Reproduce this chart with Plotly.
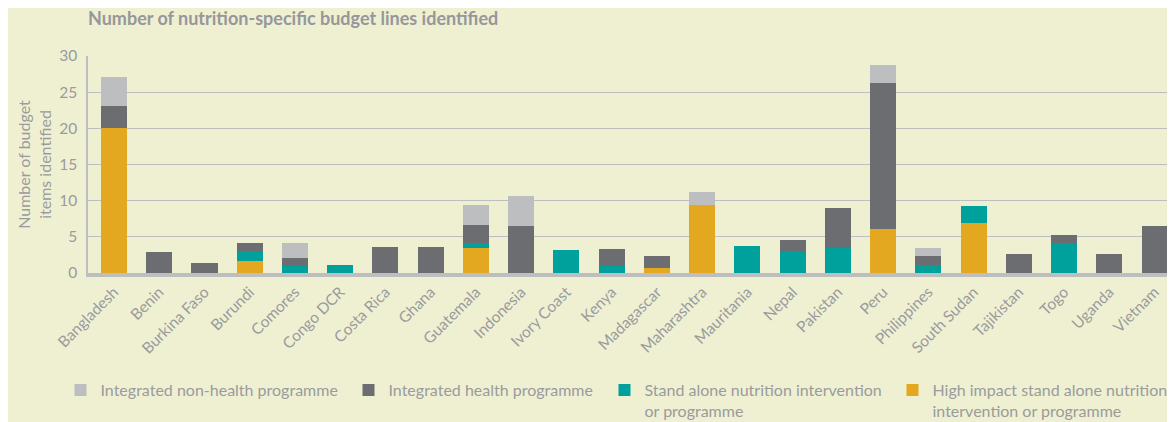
import plotly.graph_objects as go

countries = ["Bangladesh", "Benin", "Burkina Faso", "Burundi", "Comores", "Congo DCR",
             "Costa Rica", "Ghana", "Guatemala", "Indonesia", "Ivory Coast", "Kenya",
             "Madagascar", "Maharashtra", "Mauritania", "Nepal", "Pakistan", "Peru",
             "Philippines", "South Sudan", "Tajikistan", "Togo", "Uganda", "Vietnam"]

# stacked from bottom to top
high_impact = [20, 0, 0, 1.7, 0, 0, 0, 0, 3.4, 0, 0, 0,
               0.7, 9.4, 0, 0, 0, 6.1, 0, 6.9, 0, 0, 0, 0]
stand_alone = [0, 0, 0, 1.3, 1.0, 1.15, 0, 0, 0.8, 0, 3.2, 1.0,
               0, 0, 3.7, 3.0, 3.4, 0, 1.1, 2.3, 0, 4.1, 0, 0]
health = [3.1, 2.95, 1.4, 1.2, 1.1, 0, 3.6, 3.6, 2.5, 6.5, 0, 2.35,
          1.6, 0, 0, 1.5, 5.6, 20.2, 1.2, 0, 2.6, 1.1, 2.6, 6.5]
non_health = [4.0, 0, 0, 0, 2.1, 0, 0, 0, 2.7, 4.1, 0, 0,
              0, 1.8, 0, 0, 0, 2.4, 1.1, 0, 0, 0, 0, 0]

BG = "#EFF0D2"
TXT = "#9A9B9D"
FONT = "Lato"

# name, values, colour, legend entry width (px)
series = [
    ("High impact stand alone nutrition<br>intervention or programme", high_impact, "#E3A81F", 237),
    ("Stand alone nutrition intervention<br>or programme", stand_alone, "#00A09D", 243),
    ("Integrated health programme", health, "#6C6D70", 211),
    ("Integrated non-health programme", non_health, "#BDBEC0", 243),
]

# page body has an 8px margin, so the figure is sized to fit inside the window
W, H = 1167, 414
L, R, T, B = 80, 8, 48, 149
pw, ph = W - L - R, H - T - B

fig = go.Figure()
for name, vals, col, lw in series:
    fig.add_bar(x=countries, y=vals, name=name, marker_color=col,
                marker_line_width=0, legendwidth=lw)

fig.update_layout(
    barmode="stack",
    bargap=0.425,
    width=W, height=H,
    paper_bgcolor=BG, plot_bgcolor=BG,
    margin=dict(l=L, r=R, t=T, b=B, autoexpand=False),
    font=dict(family=FONT, color=TXT, size=15),
    title=dict(text="<b>Number of nutrition-specific budget lines identified</b>",
               x=80 / W, xanchor="left", xref="container",
               y=1 - 11 / H, yanchor="middle", yref="container",
               font=dict(size=18, color="#96979A", family=FONT)),
    # legend placed left of / below the plot area (paper coords) so it may use the full width
    legend=dict(orientation="h", traceorder="reversed",
                x=(52.5 - L) / pw, xanchor="left",
                y=-(365 - (T + ph)) / ph, yanchor="top",
                valign="top", font=dict(size=16, color=TXT),
                itemwidth=30, tracegroupgap=0),
    showlegend=True,
)
fig.update_yaxes(range=[0, 30], dtick=5, showgrid=True, gridcolor="#BDBEC0",
                 gridwidth=1.2, zeroline=False, showline=True, linecolor="#BDBEC0",
                 linewidth=1.5, ticks="", tickfont=dict(size=15.5, color=TXT),
                 ticklabelstandoff=6,
                 title=dict(text="Number of budget<br>items identified",
                            font=dict(size=16, color=TXT), standoff=4))
fig.update_xaxes(range=[-0.575, 23.275], tickangle=-45, showline=True,
                 linecolor="#BDBEC0", linewidth=4,
                 tickfont=dict(size=15.5, color=TXT), ticks="")

fig.write_html("out.html")
